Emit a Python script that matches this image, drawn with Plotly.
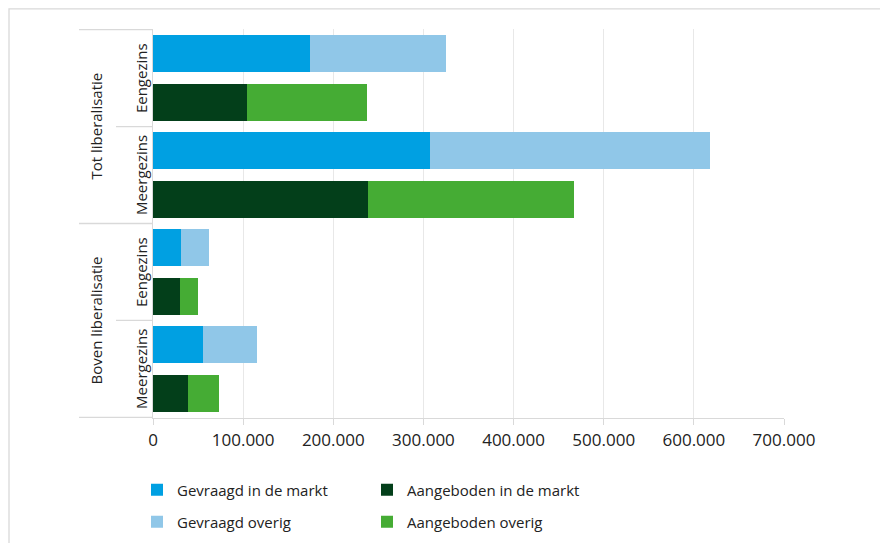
import plotly.graph_objects as go

groups = ["Tot liberalisatie", "Tot liberalisatie", "Boven liberalisatie", "Boven liberalisatie"]
types = ["Eengezins", "Meergezins", "Eengezins", "Meergezins"]
gevraagd_markt = [174000, 307000, 31000, 55500]
gevraagd_overig = [151000, 311000, 31000, 60000]
aangeboden_markt = [104000, 238500, 30000, 39000]
aangeboden_overig = [133000, 228500, 20000, 34500]
x_ticks = [0, 100000, 200000, 300000, 400000, 500000, 600000, 700000]

C_GM = "#00A0E2"
C_GO = "#90C7E8"
C_AM = "#033F1A"
C_AO = "#45AC34"
FONT = "Open Sans"
LINE = "#D9D9D9"

rows_g = [f"{g} | {t} | G" for g, t in zip(groups, types)]
rows_a = [f"{g} | {t} | A" for g, t in zip(groups, types)]
order = []
for rg, ra in zip(rows_g, rows_a):
    order += [rg, ra]

fig = go.Figure()
fig.add_trace(go.Bar(y=rows_g, x=gevraagd_markt, orientation="h", name="Gevraagd in de markt",
                     marker_color=C_GM, legend="legend"))
fig.add_trace(go.Bar(y=rows_g, x=gevraagd_overig, orientation="h", name="Gevraagd overig",
                     marker_color=C_GO, legend="legend2"))
fig.add_trace(go.Bar(y=rows_a, x=aangeboden_markt, orientation="h", name="Aangeboden in de markt",
                     marker_color=C_AM, legend="legend"))
fig.add_trace(go.Bar(y=rows_a, x=aangeboden_overig, orientation="h", name="Aangeboden overig",
                     marker_color=C_AO, legend="legend2"))
fig.update_traces(marker_line_width=0)

# page has an 8px body margin; work in screen pixels and convert
OFF = 8
W, H = 888 - OFF, 543 - OFF
L, R, T, B = 153 - OFF, 888 - 784, 29 - OFF, 543 - 418
pw, ph = W - L - R, H - T - B

def px_x(p):
    return (p - OFF - L) / pw

def px_y(p):
    return (H - B - (p - OFF)) / ph

def cx(p):
    return (p - OFF) / W

def cy(p):
    return 1 - (p - OFF) / H

shapes = []
shapes.append(dict(type="rect", xref="paper", yref="paper", x0=px_x(9), x1=px_x(882),
                   y0=px_y(570), y1=px_y(8.8), line=dict(color=LINE, width=1.3), layer="below"))
n = len(order)
for k in range(0, n + 1, 2):
    outer = (k % 4 == 0)
    shapes.append(dict(type="line", xref="paper", yref="y", x0=px_x(79 if outer else 116), x1=0,
                       y0=k - 0.5, y1=k - 0.5, line=dict(color=LINE, width=1.3)))

annotations = []
for i, t in enumerate(types):
    annotations.append(dict(text=t, xref="paper", yref="y", x=px_x(141), y=2 * i + 0.5,
                            textangle=-90, showarrow=False, xanchor="center", yanchor="middle",
                            font=dict(family=FONT, size=15, color="#222")))
for gi, g in enumerate(["Tot liberalisatie", "Boven liberalisatie"]):
    annotations.append(dict(text=g, xref="paper", yref="y", x=px_x(96), y=4 * gi + 1.5,
                            textangle=-90, showarrow=False, xanchor="center", yanchor="middle",
                            font=dict(family=FONT, size=15, color="#222")))

leg_common = dict(orientation="h", xanchor="left", yanchor="middle", entrywidth=185,
                  entrywidthmode="pixels", font=dict(family=FONT, size=15, color="#222"),
                  bgcolor="rgba(0,0,0,0)", traceorder="normal",
                  xref="container", yref="container")

fig.update_layout(
    width=W, height=H, barmode="stack", bargap=0.24,
    margin=dict(l=L, r=R, t=T, b=B, pad=0, autoexpand=False),
    paper_bgcolor="white", plot_bgcolor="white",
    font=dict(family=FONT, size=15, color="#222"),
    separators=",.",
    xaxis=dict(range=[0, 700000], tickvals=x_ticks, tickformat=",d", showgrid=True,
               gridcolor="#E8E8E8", gridwidth=1, zeroline=False, showline=True, linecolor=LINE,
               linewidth=1.3, ticks="outside", ticklen=6, tickcolor=LINE,
               tickfont=dict(family=FONT, size=17, color="#222")),
    yaxis=dict(categoryorder="array", categoryarray=order, autorange="reversed",
               showticklabels=False, showgrid=False, zeroline=False, showline=True,
               linecolor=LINE, linewidth=1.3, ticks=""),
    legend=dict(x=cx(137), y=cy(490), **leg_common),
    legend2=dict(x=cx(137), y=cy(522), **leg_common),
    shapes=shapes, annotations=annotations,
)

fig.write_html("out.html")
